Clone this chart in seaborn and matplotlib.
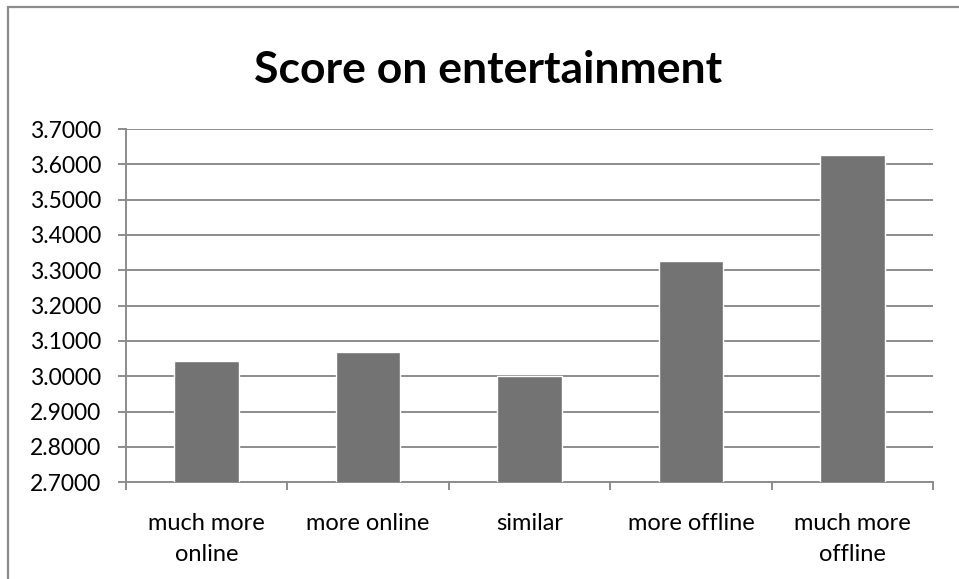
import matplotlib
matplotlib.use("Agg")
import matplotlib.pyplot as plt
import matplotlib.patches as mpatches
from matplotlib.ticker import FormatStrFormatter, FixedLocator
import seaborn as sns

# Mean entertainment score by online/offline preference group
categories = ["much more\nonline", "more online", "similar", "more offline", "much more\noffline"]
scores = [3.043, 3.069, 3.001, 3.327, 3.627]
y_ticks = [2.7, 2.8, 2.9, 3.0, 3.1, 3.2, 3.3, 3.4, 3.5, 3.6, 3.7]
title = "Score on entertainment"

sns.set_theme(style="white")
plt.rcParams["font.family"] = ["Lato", "DejaVu Sans"]

W, H = 959, 579
fig = plt.figure(figsize=(W / 100, H / 100), dpi=100)
fig.patch.set_facecolor("white")

# chart-area frame (left and top edges visible)
frame = mpatches.Rectangle((8 / W, -0.1), 1.1, (H - 7) / H + 0.1,
                           transform=fig.transFigure, fill=False,
                           edgecolor="#8c8c8c", linewidth=1.6, zorder=0)
fig.patches.append(frame)

left, right, top, bottom = 126, 933, 129, 482.3
ax = fig.add_axes([left / W, (H - bottom) / H, (right - left) / W, (bottom - top) / H])

sns.barplot(x=categories, y=scores, color="#737373", saturation=1,
            width=0.4, ax=ax, zorder=3)

grid_col = "#8c8c8c"
ax.set_ylim(2.7, 3.7)
ax.set_xlim(-0.5, len(categories) - 0.5)
ax.yaxis.set_major_locator(FixedLocator(y_ticks))
ax.yaxis.set_major_formatter(FormatStrFormatter("%.4f"))
ax.grid(axis="y", color=grid_col, linewidth=1.4, zorder=0)
ax.set_axisbelow(True)

for side in ("top", "right"):
    ax.spines[side].set_visible(False)
for side in ("left", "bottom"):
    ax.spines[side].set_color(grid_col)
    ax.spines[side].set_linewidth(1.4)

ax.tick_params(axis="y", which="major", direction="out", length=6, width=1.4,
               color=grid_col, pad=12, labelsize=16.5, labelcolor="black", left=True)
ax.tick_params(axis="x", which="major", length=0, pad=22, labelsize=17,
               labelcolor="black")
ax.set_xticks([i - 0.5 for i in range(len(categories) + 1)], minor=True)
ax.tick_params(axis="x", which="minor", direction="out", length=6, width=1.4,
               color=grid_col, bottom=True)
for lbl in ax.get_xticklabels():
    lbl.set_linespacing(1.62)
    lbl.set_verticalalignment("top")
ax.set_xlabel("")
ax.set_ylabel("")

fig.text(488 / W, 1 - 70 / H, title, ha="center", va="center",
         fontsize=32, fontweight="bold", color="black")

fig.savefig("out.png", dpi=100, facecolor="white")
